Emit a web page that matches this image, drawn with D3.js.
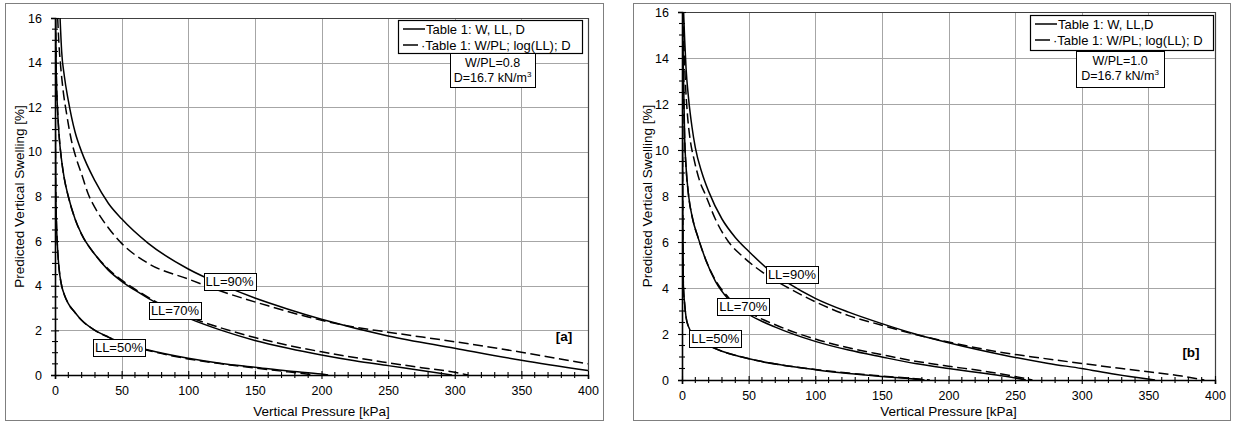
<!DOCTYPE html>
<html>
<head>
<meta charset="utf-8">
<script src="https://cdn.jsdelivr.net/npm/d3@7"></script>
<style>
  body { margin: 0; background: #fff; }
  svg { font-family: "Liberation Sans", Arial, sans-serif; }
  .grid line { stroke: #a6a6a6; stroke-width: 1; }
  .curve { fill: none; stroke: #000; stroke-width: 1.5; }
  .dash { stroke-dasharray: 10,4.5; }
</style>
</head>
<body>
<svg id="chart" width="1235" height="423"></svg>
<script>
// axis ticks
var xTicks = [0, 50, 100, 150, 200, 250, 300, 350, 400];
var yTicks = [0, 2, 4, 6, 8, 10, 12, 14, 16];

// panel [a]  W/PL=0.8  -- [pressure kPa, swelling %]
var a90Table = [[3.8,16],[5,14.5],[7,13.4],[10,12.3],[15,10.9],[20,10],[30,8.7],[40,7.7],[50,7],[70,5.9],[100,4.75],[125,4.05],[150,3.45],[175,2.95],[200,2.5],[250,1.75],[300,1.2],[350,0.66],[400,0.2]];
var a90Log   = [[2,16],[3,14.8],[4,14],[6,12.8],[9,11.6],[12,10.6],[16,9.7],[20,9],[25,8.1],[30,7.5],[40,6.6],[50,5.9],[70,5],[100,4.3],[130,3.65],[160,3.1],[190,2.6],[220,2.2],[250,1.92],[300,1.49],[350,1.02],[400,0.5]];
var a70Table = [[0.4,16],[0.7,14.5],[1,13.4],[2,11.8],[3,10.8],[5,9.6],[7,8.8],[10,8],[15,7],[20,6.3],[30,5.4],[40,4.7],[50,4.2],[60,3.8],[80,3.1],[100,2.55],[125,2],[150,1.55],[175,1.2],[200,0.9],[225,0.64],[250,0.42],[275,0.2],[298,0]];
var a70Log   = [[0.4,16],[0.7,14.5],[1,13.4],[2,11.8],[3,10.8],[5,9.6],[7,8.8],[10,8],[15,7],[20,6.3],[30,5.4],[40,4.75],[50,4.25],[60,3.85],[80,3.15],[100,2.62],[125,2.1],[150,1.68],[175,1.33],[200,1.04],[225,0.78],[250,0.55],[275,0.33],[300,0.12],[310,0]];
var a50Table = [[0.05,16],[0.2,12],[0.5,8.5],[1,7],[2,5.6],[3,4.8],[5,4],[7,3.6],[10,3.2],[15,2.8],[20,2.45],[30,2],[40,1.7],[50,1.45],[70,1.12],[100,0.75],[125,0.52],[150,0.35],[175,0.18],[200,0.04],[205,0]];
var a50Log   = [[0.05,16],[0.2,12],[0.5,8.5],[1,7],[2,5.6],[3,4.8],[5,4],[7,3.6],[10,3.2],[15,2.8],[20,2.45],[30,2],[40,1.7],[50,1.44],[70,1.1],[100,0.72],[125,0.5],[150,0.31],[175,0.14],[195,0]];

// panel [b]  W/PL=1.0
var b90Table = [[1.2,16],[2,14.8],[3,13.6],[5,12.2],[7.5,11],[10,10.1],[15,9],[20,8.2],[30,7],[40,6.2],[50,5.6],[65,4.8],[80,4.2],[100,3.55],[125,2.95],[150,2.45],[175,2],[200,1.62],[240,1.1],[275,0.72],[300,0.5],[325,0.25],[355,0]];
var b90Log   = [[0.8,16],[1.5,14.5],[2.5,13],[4,11.6],[6,10.5],[9,9.6],[13,8.7],[18,8],[25,7],[35,6],[45,5.4],[60,4.7],[80,4],[100,3.4],[125,2.8],[150,2.38],[175,1.98],[200,1.65],[240,1.2],[270,0.95],[300,0.72],[330,0.5],[350,0.36],[375,0.17],[392,0]];
var b70Table = [[0.5,16],[1,13.5],[2,10.5],[3,9.3],[5,8],[8,7],[12,6.2],[18,5.2],[25,4.3],[35,3.5],[50,2.85],[70,2.3],[100,1.68],[125,1.3],[150,1],[175,0.72],[200,0.5],[225,0.3],[245,0.14],[258,0]];
var b70Log   = [[0.5,16],[1,13.5],[2,10.5],[3,9.3],[5,8],[8,7],[12,6.2],[18,5.2],[25,4.35],[35,3.58],[50,2.95],[70,2.4],[100,1.78],[125,1.4],[150,1.1],[175,0.82],[200,0.6],[225,0.4],[250,0.15],[263,0]];
var b50Table = [[0.2,16],[0.5,8],[1,4.2],[2,3.3],[3,2.75],[5,2.3],[8,2],[12,1.75],[20,1.5],[30,1.25],[45,1],[60,0.8],[75,0.65],[100,0.45],[125,0.28],[150,0.15],[170,0.06],[182,0]];
var b50Log   = [[0.2,16],[0.5,8],[1,4.2],[2,3.3],[3,2.75],[5,2.3],[8,2],[12,1.75],[20,1.5],[30,1.25],[45,1],[60,0.8],[75,0.65],[100,0.46],[125,0.3],[150,0.17],[170,0.08],[186,0]];

var legendA = ["Table 1: W, LL, D", "\u00b7Table 1: W/PL; log(LL); D"];
var legendB = ["Table 1: W, LL,D", "\u00b7Table 1: W/PL; log(LL); D"];

var panels = [
  { tag: "[a]", wpl: "W/PL=0.8", legend: legendA,
    frame: [5, 3, 603, 420], plot: [55, 18, 588, 375],
    series: [a90Table, a90Log, a70Table, a70Log, a50Table, a50Log],
    labels: [["LL=90%", 131, 4.2], ["LL=70%", 90, 2.9], ["LL=50%", 48, 1.25]],
    legendBox: [398, 20, 184, 33], infoBox: [450, 53, 85, 34], tagPos: [564, 341] },
  { tag: "[b]", wpl: "W/PL=1.0", legend: legendB,
    frame: [633, 3, 1230, 420], plot: [682, 12, 1215, 380],
    series: [b90Table, b90Log, b70Table, b70Log, b50Table, b50Log],
    labels: [["LL=90%", 82.5, 4.6], ["LL=70%", 46, 3.2], ["LL=50%", 25, 1.8]],
    legendBox: [1030, 15, 183, 35], infoBox: [1076, 51, 88, 36], tagPos: [1191, 357] }
];

var svg = d3.select("#chart");

panels.forEach(function(p, pi) {
  svg.append("rect")
    .attr("x", p.frame[0] + 0.5).attr("y", p.frame[1] + 0.5)
    .attr("width", p.frame[2] - p.frame[0]).attr("height", p.frame[3] - p.frame[1])
    .attr("fill", "#fff").attr("stroke", "#7f7f7f");

  var x = d3.scaleLinear().domain([0, 400]).range([p.plot[0], p.plot[2]]);
  var y = d3.scaleLinear().domain([0, 16]).range([p.plot[3], p.plot[1]]);
  var g = svg.append("g");

  // grid
  var grid = g.append("g").attr("class", "grid");
  grid.selectAll("line.v").data(xTicks.slice(1, -1)).enter().append("line")
    .attr("x1", function(d) { return Math.round(x(d)) + 0.5; })
    .attr("x2", function(d) { return Math.round(x(d)) + 0.5; })
    .attr("y1", y(16)).attr("y2", y(0));
  grid.selectAll("line.h").data(yTicks.slice(1, -1)).enter().append("line")
    .attr("y1", function(d) { return Math.round(y(d)) + 0.5; })
    .attr("y2", function(d) { return Math.round(y(d)) + 0.5; })
    .attr("x1", x(0)).attr("x2", x(400));

  // plot frame top/right
  g.append("path")
    .attr("d", "M" + x(0) + "," + (y(16) + 0.5) + "H" + (x(400) + 0.5) + "V" + y(0))
    .attr("fill", "none").attr("stroke", "#404040").attr("stroke-width", 1.2);

  // curves
  var clipId = "clip" + pi;
  svg.append("clipPath").attr("id", clipId).append("rect")
    .attr("x", x(0)).attr("y", y(16)).attr("width", x(400) - x(0)).attr("height", y(0) - y(16));
  var line = d3.line().x(function(d) { return x(d[0]); }).y(function(d) { return y(d[1]); })
    .curve(d3.curveMonotoneX);
  g.append("g").attr("clip-path", "url(#" + clipId + ")")
    .selectAll("path").data(p.series).enter().append("path")
    .attr("class", function(d, i) { return i % 2 ? "curve dash" : "curve"; })
    .attr("d", line);

  // axes
  var xAxis = d3.axisBottom(x).tickValues(xTicks).tickSize(4).tickPadding(7);
  var gx = g.append("g").attr("transform", "translate(0," + y(0) + ")").call(xAxis);
  gx.selectAll(".tick line").attr("y1", -4);
  gx.append("g").selectAll("line").data(d3.range(0, 401, 10).filter(function(v) { return v % 50; }))
    .enter().append("line")
    .attr("x1", x).attr("x2", x).attr("y1", -3).attr("y2", 3).attr("stroke", "#000");
  var yAxis = d3.axisLeft(y).tickValues(yTicks).tickSize(4).tickPadding(9);
  var gy = g.append("g").attr("transform", "translate(" + x(0) + ",0)").call(yAxis);
  gy.selectAll(".tick line").attr("x1", 4);
  gy.append("g").selectAll("line").data(d3.range(0, 16.01, 0.5).filter(function(v) { return v % 2; }))
    .enter().append("line")
    .attr("y1", y).attr("y2", y).attr("x1", -3).attr("x2", 3).attr("stroke", "#000");
  [gx, gy].forEach(function(a) {
    a.select(".domain").attr("stroke-width", 1.6);
    a.selectAll("line").attr("stroke-width", 1.1);
    a.selectAll(".tick text").attr("fill", "#000").attr("font-size", 12.5)
      .attr("font-family", "Liberation Sans, Arial, sans-serif");
  });

  // axis titles
  g.append("text").attr("x", (x(0) + x(400)) / 2).attr("y", p.frame[3] - 4)
    .attr("text-anchor", "middle").attr("font-size", 13.5).text("Vertical Pressure [kPa]");
  g.append("text")
    .attr("transform", "translate(" + (p.frame[0] + 19) + "," + ((y(0) + y(16)) / 2) + ") rotate(-90)")
    .attr("text-anchor", "middle").attr("font-size", 13.5).text("Predicted Vertical Swelling [%]");

  // curve labels
  p.labels.forEach(function(l) {
    var cx = x(l[1]), cy = y(l[2]);
    var lg = g.append("g");
    var t = lg.append("text").attr("x", cx).attr("y", cy + 4.5)
      .attr("text-anchor", "middle").attr("font-size", 13).text(l[0]);
    var w = t.node().getComputedTextLength();
    lg.insert("rect", "text").attr("x", Math.round(cx - w / 2 - 2) + 0.5).attr("y", Math.round(cy - 8.5) + 0.5)
      .attr("width", Math.round(w + 4)).attr("height", 17)
      .attr("fill", "#fff").attr("stroke", "#000").attr("stroke-width", 1);
  });

  // legend
  var lb = p.legendBox;
  g.append("rect").attr("x", lb[0] + 0.5).attr("y", lb[1] + 0.5).attr("width", lb[2]).attr("height", lb[3])
    .attr("fill", "#fff").attr("stroke", "#000").attr("stroke-width", 1.2);
  p.legend.forEach(function(txt, i) {
    var ly = lb[1] + 9 + i * 16;
    g.append("line").attr("x1", lb[0] + 5).attr("x2", lb[0] + (i ? 20 : 27)).attr("y1", ly).attr("y2", ly)
      .attr("stroke", "#000").attr("stroke-width", 1.5);
    g.append("text").attr("x", lb[0] + (i ? 23 : 28)).attr("y", ly + 4.5).attr("font-size", 13).text(txt);
  });
  var ib = p.infoBox;
  g.append("rect").attr("x", ib[0] + 0.5).attr("y", ib[1] + 0.5).attr("width", ib[2]).attr("height", ib[3])
    .attr("fill", "#fff").attr("stroke", "#000").attr("stroke-width", 1);
  g.append("text").attr("x", ib[0] + ib[2] / 2).attr("y", ib[1] + 14)
    .attr("text-anchor", "middle").attr("font-size", 12.5).text(p.wpl);
  var dt = g.append("text").attr("x", ib[0] + ib[2] / 2).attr("y", ib[1] + 29)
    .attr("text-anchor", "middle").attr("font-size", 12.5);
  dt.append("tspan").text("D=16.7 kN/m");
  dt.append("tspan").attr("dy", -5).attr("font-size", 8).text("3");

  g.append("text").attr("x", p.tagPos[0]).attr("y", p.tagPos[1])
    .attr("text-anchor", "middle").attr("font-size", 13.5).attr("font-weight", "bold").text(p.tag);
});
</script>
</body>
</html>
